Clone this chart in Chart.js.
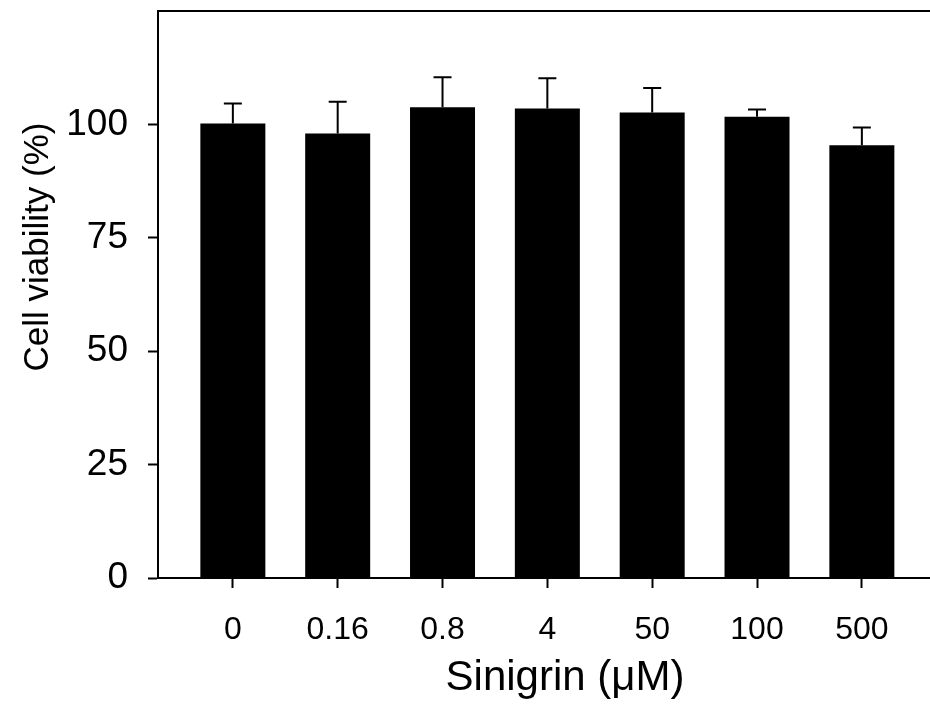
<!DOCTYPE html>
<html>
<head>
<meta charset="utf-8">
<script src="https://cdn.jsdelivr.net/npm/chart.js@4/dist/chart.umd.min.js"></script>
<style>
  html, body { margin: 0; padding: 0; background: #fff; }
  canvas { display: block; }
</style>
</head>
<body>
<canvas id="chart" width="930" height="716"></canvas>
<script>
const doses = ['0', '0.16', '0.8', '4', '50', '100', '500'];
const viability = [100.2, 98.0, 103.8, 103.5, 102.6, 101.7, 95.4];
const sd = [4.4, 7.0, 6.6, 6.7, 5.4, 1.6, 3.9];
const yTicks = [0, 25, 50, 75, 100];
const xTitle = 'Sinigrin (μM)';
const yTitle = 'Cell viability (%)';

const FONT = 'Liberation Sans, Arial, sans-serif';

// error bars on top of each bar
const errorBars = {
  id: 'errorBars',
  afterDatasetsDraw(chart) {
    const ctx = chart.ctx;
    const xs = chart.scales.x, ys = chart.scales.y;
    ctx.save();
    ctx.strokeStyle = '#000';
    ctx.lineWidth = 2;
    viability.forEach((v, i) => {
      const x = xs.getPixelForValue(i);
      const y0 = ys.getPixelForValue(v);
      const y1 = ys.getPixelForValue(v + sd[i]);
      ctx.beginPath();
      ctx.moveTo(x, y0);
      ctx.lineTo(x, y1);
      ctx.moveTo(x - 9, y1);
      ctx.lineTo(x + 9, y1);
      ctx.stroke();
    });
    ctx.restore();
  }
};

// top frame line + axis titles (placed off-centre like the original)
const frameAndTitles = {
  id: 'frameAndTitles',
  afterDraw(chart) {
    const { ctx, chartArea } = chart;
    ctx.save();
    ctx.strokeStyle = '#000';
    ctx.lineWidth = 2;
    ctx.beginPath();
    ctx.moveTo(chartArea.left, chartArea.top);
    ctx.lineTo(chartArea.right, chartArea.top);
    ctx.stroke();

    ctx.fillStyle = '#000';
    ctx.textAlign = 'center';
    ctx.textBaseline = 'alphabetic';
    ctx.font = '42px ' + FONT;
    ctx.fillText(xTitle, 565, 690);

    ctx.translate(48, 247);
    ctx.rotate(-Math.PI / 2);
    ctx.font = '35px ' + FONT;
    ctx.fillText(yTitle, 0, 0);
    ctx.restore();
  }
};

new Chart(document.getElementById('chart'), {
  type: 'bar',
  data: {
    datasets: [{
      data: viability.map((v, i) => ({ x: i, y: v })),
      backgroundColor: '#000',
      borderWidth: 0,
      barPercentage: 0.62,
      categoryPercentage: 1
    }]
  },
  options: {
    responsive: false,
    animation: false,
    layout: { padding: { top: 11, right: 0, left: 0, bottom: 0 } },
    plugins: { legend: { display: false }, tooltip: { enabled: false } },
    scales: {
      x: {
        type: 'linear',
        offset: false,
        min: -0.714,
        max: 6.65,
        afterBuildTicks: s => { s.ticks = doses.map((_, i) => ({ value: i })); },
        afterFit: s => { s.height = 138; s.paddingLeft = 0; s.paddingRight = 0; },
        grid: { offset: false, drawOnChartArea: false, drawTicks: true, tickLength: 10, color: '#000', tickWidth: 2 },
        border: { display: true, color: '#000', width: 2 },
        ticks: {
          callback: v => doses[v],
          color: '#000',
          padding: 23,
          maxRotation: 0,
          autoSkip: false,
          font: { family: FONT, size: 32 }
        },
        title: { display: false }
      },
      y: {
        min: 0,
        max: 125,
        afterBuildTicks: s => { s.ticks = yTicks.map(v => ({ value: v })); },
        afterFit: s => { s.width = 158; s.paddingTop = 0; s.paddingBottom = 0; },
        grid: { drawOnChartArea: false, drawTicks: true, tickLength: 10, color: '#000', tickWidth: 2 },
        border: { display: true, color: '#000', width: 2 },
        ticks: {
          color: '#000',
          padding: 20,
          font: { family: FONT, size: 37 }
        },
        title: { display: false }
      }
    }
  },
  plugins: [errorBars, frameAndTitles]
});
</script>
</body>
</html>
